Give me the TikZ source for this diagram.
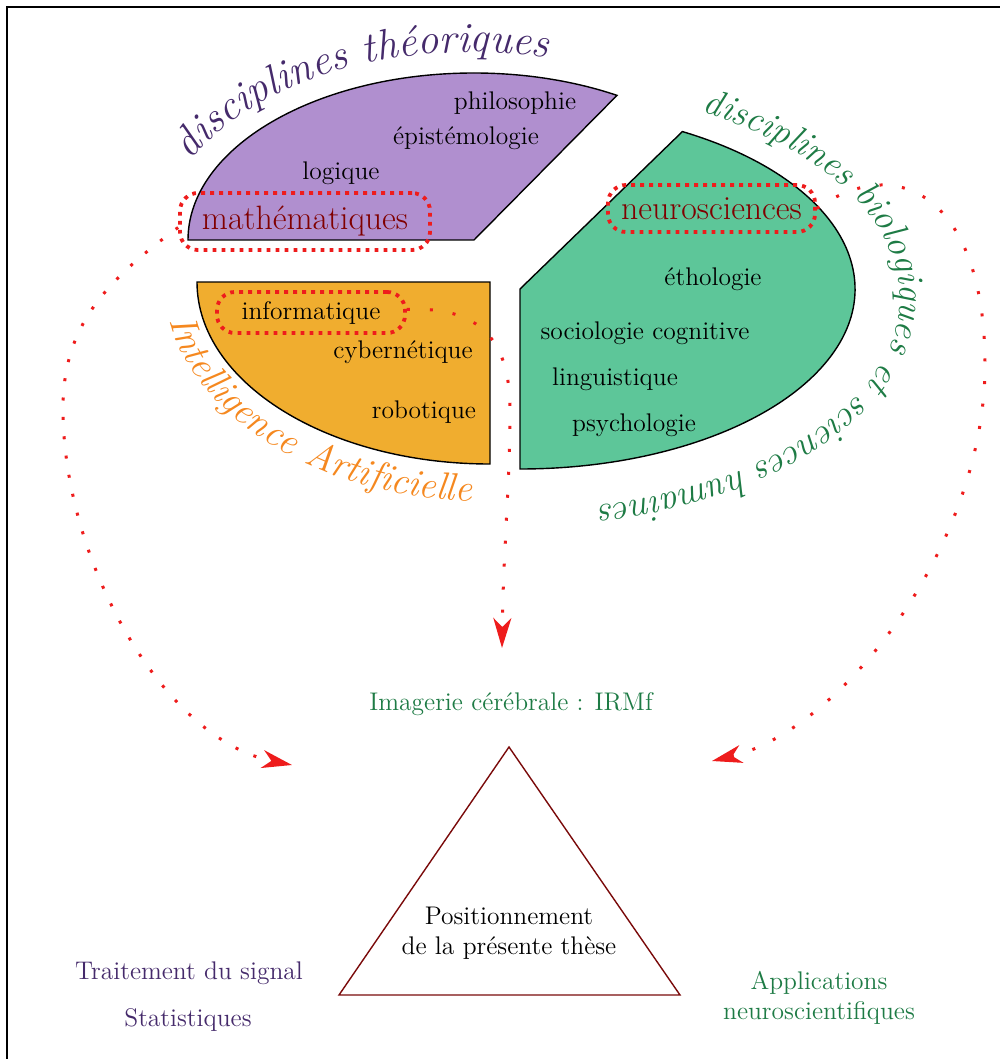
\documentclass[tikz,border=0pt]{standalone}
\usepackage{fontspec}
\usetikzlibrary{arrows.meta,decorations.text}
\definecolor{pfill}{HTML}{B08FCF}
\definecolor{ofill}{HTML}{F0AD2F}
\definecolor{gfill}{HTML}{5DC699}
\definecolor{ptxt}{HTML}{452A6B}
\definecolor{gtxt}{HTML}{1E7B45}
\definecolor{otxt}{HTML}{F5881F}
\definecolor{dred}{HTML}{800000}
\definecolor{dotred}{HTML}{EE1C1C}
\definecolor{tri}{HTML}{7A0A0A}
\begin{document}
\begin{tikzpicture}[x=0.5pt,y=-0.5pt,
  lbl/.style={font=\fontsize{12.75}{15}\selectfont, inner sep=0pt},
  big/.style={font=\fontsize{16.9}{20}\selectfont, text=dred, inner sep=0pt},
  redbox/.style={draw=dotred, line width=1.9pt, dash pattern=on 1.9pt off 2.6pt, rounded corners=9pt},
  dots/.style={draw=dotred, line width=1.5pt, -{Stealth[length=15pt,width=9pt,inset=4.5pt]}},
  sector/.style={draw=black, line width=0.7pt}]
\useasboundingbox (0,0) rectangle (1000,1059);
\draw[line width=1pt] (7,7) rectangle (1030,1090);

% sectors
\filldraw[sector, fill=pfill] (474,240) -- ++(180:286 and 167) arc[start angle=180, end angle=300, x radius=286, y radius=167] -- cycle;
\filldraw[sector, fill=ofill] (490,282) -- ++(180:293 and 182) arc[start angle=180, end angle=90, x radius=293, y radius=182] -- cycle;
\filldraw[sector, fill=gfill] (520,289) -- ++(-61:335 and 180) arc[start angle=-61, end angle=90, x radius=335, y radius=180] -- cycle;

% labels
\node[lbl] (philo) at (515,103) {philosophie};
\node[lbl] (episte) at (466,138) {épistémologie};
\node[lbl] (logique) at (341,173) {logique};
\node[redbox, big, minimum width=125pt, minimum height=28.5pt] (math) at (305,221.5) {mathématiques};
\node[redbox, big, minimum width=103.5pt, minimum height=23.5pt] (neuro) at (711.5,208.5) {neurosciences};
\node[lbl] (etho) at (713,279) {éthologie};
\node[lbl] (socio) at (645,333) {sociologie cognitive};
\node[lbl] (ling) at (615,379) {linguistique};
\node[lbl] (psy) at (634,425) {psychologie};
\node[redbox, lbl, minimum width=94pt, minimum height=20.5pt] (info) at (311,312.5) {informatique};
\node[lbl] (cyber) at (403,352) {cybernétique};
\node[lbl] (robo) at (424,412) {robotique};

% bottom part
\node[lbl, text=gtxt] (irm) at (511,704) {Imagerie cérébrale : IRMf};
\coordinate (A) at (509,747);
\coordinate (B) at (680,995);
\coordinate (C) at (339,995);
\draw[tri, line width=0.7pt] (A) -- (B) -- (C) -- cycle;
\node[lbl, align=center] (pos) at (509,933) {Positionnement\\de la présente thèse};
\node[lbl, text=ptxt] (sig) at (189,973) {Traitement du signal};
\node[lbl, text=ptxt] (stat) at (188,1020) {Statistiques};
\node[lbl, text=gtxt, align=center] (app) at (819,998) {Applications\\neuroscientifiques};

% dotted arrows
\coordinate (tipL) at (292,765);
\coordinate (tipM) at (502,648);
\coordinate (tipR) at (712,761);
\draw[dots, dash pattern=on 1.5pt off 8.2pt] ([yshift=-3pt]math.west) .. controls (100,285) and (63,330) .. (63,409) .. controls (63,559) and (162,739) .. (tipL);
\draw[dots, dash pattern=on 1.5pt off 10pt] ([yshift=1.5pt]info.east) .. controls (480,306) and (510,340) .. (510,410) .. controls (510,480) and (503,560) .. (tipM);
\draw[dots, dash pattern=on 1.5pt off 9.8pt] (neuro.east) .. controls (900,150) and (985,200) .. (985,365) .. controls (985,545) and (842,730) .. (tipR);

% curved titles
\path[decorate, decoration={text along path, text={|\fontsize{21.3}{25}\selectfont\itshape\color{ptxt}|disciplines théoriques}}] ([shift={(205:312 and 188)}]474,240) arc[start angle=205, end angle=300, x radius=312, y radius=188];
\path[decorate, decoration={text along path, text={|\fontsize{19.3}{23}\selectfont\itshape\color{otxt}|Intelligence Artificielle}}] ([shift={(170:325 and 220)}]490,282) arc[start angle=170, end angle=70, x radius=325, y radius=220];
\path[decorate, decoration={text along path, text={|\fontsize{18.4}{22}\selectfont\itshape\color{gtxt}|disciplines biologiques et sciences humaines}}] ([shift={(-61.4:380 and 212)}]520,298) arc[start angle=-61.4, end angle=110, x radius=380, y radius=212];
\end{tikzpicture}
\end{document}
